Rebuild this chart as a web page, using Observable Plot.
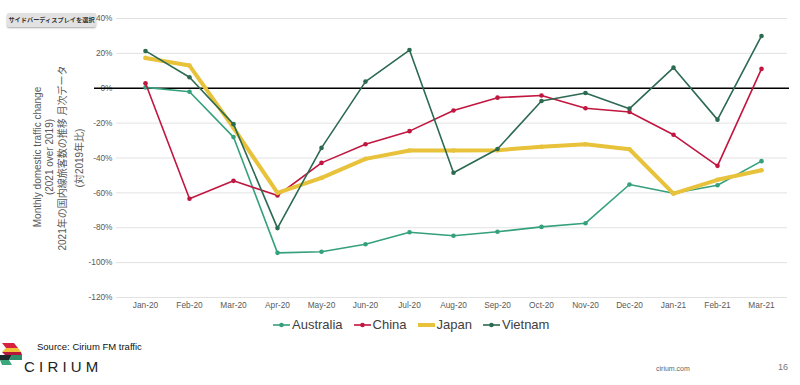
<!DOCTYPE html>
<html><head><meta charset="utf-8">
<script src="https://cdn.jsdelivr.net/npm/d3@7"></script>
<script src="https://cdn.jsdelivr.net/npm/@observablehq/plot@0.6"></script>
<style>
body{margin:0;background:#fff;font-family:"Liberation Sans",Arial,sans-serif;}
#wrap{position:relative;width:800px;height:385px;overflow:hidden;background:#fff;}
#chart{position:absolute;left:0;top:0;}
.abs{position:absolute;white-space:nowrap;}
.ytitle{position:absolute;font-size:10px;color:#595959;transform:translate(-50%,-50%) rotate(-90deg);white-space:nowrap;line-height:1;font-family:"Liberation Sans","Noto Sans CJK JP",sans-serif;}
#btn{left:7px;top:13px;width:89px;height:14px;background:#e2e2e2;border-radius:2px;box-shadow:0 1px 2px rgba(0,0,0,0.35);font-size:6.2px;color:#333;font-family:"Noto Sans CJK JP",sans-serif;line-height:14px;text-align:center;font-weight:bold;}
#legend{left:272px;top:317px;display:flex;align-items:center;font-size:13px;color:#404040;}
#legend .item{display:flex;align-items:center;margin-right:10px;}
#legend svg{margin-right:1px;}
</style></head><body>
<div id="wrap">
<div id="chart"></div>
<div class="abs" id="btn">サイドバーディスプレイを選択</div>
<div class="ytitle" style="left:38px;top:157px;">Monthly domestic traffic change</div>
<div class="ytitle" style="left:50px;top:157px;">(2021 over 2019)</div>
<div class="ytitle" style="left:63px;top:158px;">2021年の国内線旅客数の推移 月次データ</div>
<div class="ytitle" style="left:80px;top:158px;">(対2019年比)</div>
<div class="abs" id="legend"></div>
<div class="abs" style="left:37px;top:341px;font-size:9.5px;color:#111;">Source: Cirium FM traffic</div>
<svg class="abs" style="left:0;top:343px;" width="24" height="28" viewBox="0 0 24 28">
  <polygon points="2,0 14,0 18,5 6,5" fill="#d6223f"/>
  <polygon points="6,5 18,5 21,9 2,9" fill="#f0c239"/>
  <polygon points="2,9 21,9 22,12 5,12" fill="#b5163a"/>
  <polygon points="0,12 12,12 9,17 0,17" fill="#1d2a2a"/>
  <polygon points="12,12 22,12 22,17 9,17" fill="#2f8f6a"/>
  <polygon points="0,17 9,17 12,22 2,22" fill="#3aa87c"/>
</svg>
<div class="abs" style="left:24px;top:358px;font-size:15px;letter-spacing:4.2px;color:#222;font-weight:300;font-family:'Liberation Sans',sans-serif;">CIRIUM</div>
<div class="abs" style="left:656px;top:365px;font-size:7px;color:#666;">cirium.com</div>
<div class="abs" style="left:778px;top:362px;font-size:9px;color:#777;">16</div>
</div>
<script>
const months = ["Jan-20","Feb-20","Mar-20","Apr-20","May-20","Jun-20","Jul-20","Aug-20","Sep-20","Oct-20","Nov-20","Dec-20","Jan-21","Feb-21","Mar-21"];
const seriesNames = ["Australia","China","Japan","Vietnam"];
const australia = [0.5,-2,-28,-94.4,-93.8,-89.5,-82.6,-84.6,-82.3,-79.5,-77.4,-55.2,-60.2,-55.6,-41.8];
const china = [2.9,-63.4,-53.1,-61.5,-42.8,-32.1,-24.6,-12.8,-5.4,-4.2,-11.5,-13.6,-26.7,-44.5,11.1];
const japan = [17.4,13,-22.7,-60,-51.4,-40.5,-35.7,-35.7,-35.5,-33.6,-32.1,-35,-60.4,-52.5,-47];
const vietnam = [21.4,6.3,-20.6,-80.2,-34.2,3.8,21.9,-48.5,-34.8,-7.3,-2.7,-11.7,11.8,-18,30];
const yTicks = [-120,-100,-80,-60,-40,-20,0,20,40];
const colors = ["#34a07c","#c0163f","#e8c23a","#2c6a52"];
const widths = [1.6,1.6,4,1.6];
const valuesBySeries = [australia, china, japan, vietnam];

const data = [];
seriesNames.forEach((s,i)=>valuesBySeries[i].forEach((v,j)=>data.push({series:s, month:months[j], value:v})));

const lineMarks = [];
seriesNames.forEach((s,i)=>{
  const d = data.filter(r=>r.series===s);
  lineMarks.push(Plot.line(d,{x:"month",y:"value",stroke:colors[i],strokeWidth:widths[i],strokeLinejoin:"round",strokeLinecap:"round"}));
  lineMarks.push(Plot.dot(d,{x:"month",y:"value",fill:colors[i],r:2.3,stroke:"none"}));
});

const chart = Plot.plot({
  width:800, height:385,
  marginTop:18, marginBottom:88, marginLeft:116, marginRight:13,
  style:{fontFamily:"'Liberation Sans',Arial,sans-serif",fontSize:"8.3px",color:"#595959",background:"transparent",overflow:"visible"},
  x:{type:"point",domain:months,range:[142,764],padding:0,label:null,tickSize:0,tickPadding:5},
  y:{domain:[-120,40],ticks:yTicks,tickFormat:d=>d+"%",label:null,tickSize:0,tickPadding:4},
  marks:[
    Plot.gridY(yTicks,{stroke:"#e2e2e2",strokeOpacity:1,strokeWidth:1}),
    Plot.ruleY([0],{stroke:"#000",strokeWidth:1.3,insetLeft:-22,insetRight:-2}),
    ...lineMarks
  ]
});
document.getElementById("chart").appendChild(chart);

const legend = document.getElementById("legend");
seriesNames.forEach((s,i)=>{
  const item = document.createElement("div");
  item.className="item";
  const sw = widths[i]>2
    ? `<svg width="19" height="10"><line x1="1" y1="5" x2="18" y2="5" stroke="${colors[i]}" stroke-width="4"/></svg>`
    : `<svg width="19" height="10"><line x1="1" y1="5" x2="18" y2="5" stroke="${colors[i]}" stroke-width="1.6"/><circle cx="9.5" cy="5" r="2.3" fill="${colors[i]}"/></svg>`;
  item.innerHTML = sw + `<span>${s}</span>`;
  legend.appendChild(item);
});
</script>
</body></html>
